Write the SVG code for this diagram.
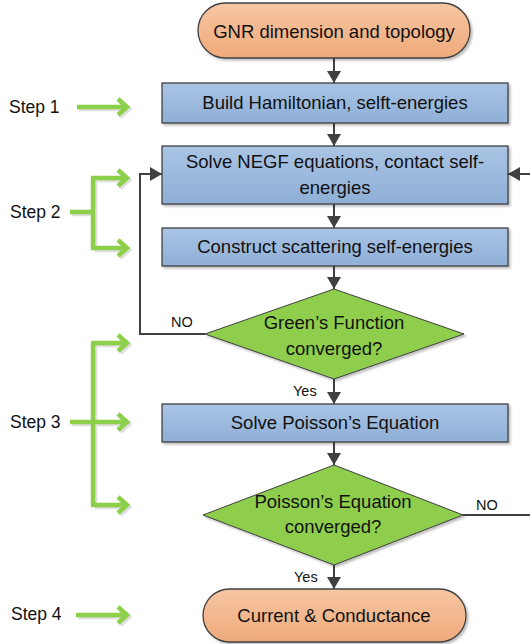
<svg xmlns="http://www.w3.org/2000/svg" width="530" height="644" viewBox="0 0 530 644">
<defs>
<linearGradient id="gBlue" x1="0" y1="0" x2="0" y2="1"><stop offset="0" stop-color="#A9C4E4"/><stop offset="1" stop-color="#8FAFD6"/></linearGradient>
<linearGradient id="gOrange" x1="0" y1="0" x2="0" y2="1"><stop offset="0" stop-color="#F6C6A3"/><stop offset="1" stop-color="#EFAA7A"/></linearGradient>
<filter id="sh" x="-10%" y="-10%" width="130%" height="140%"><feDropShadow dx="2" dy="2" stdDeviation="1" flood-color="#000" flood-opacity="0.25"/></filter>
<marker id="ah" markerUnits="userSpaceOnUse" markerWidth="14" markerHeight="14" refX="12" refY="7" orient="auto"><path d="M0,0 L12,7 L0,14 Z" fill="#404040"/></marker>
</defs>
<style>
text{font-family:"Liberation Sans",Arial,sans-serif;fill:#111;}
.t{font-size:18.5px;text-anchor:middle;}
.s{font-size:17.5px;}
.l{font-size:14.5px;}
.box{fill:url(#gBlue);stroke:#404040;stroke-width:1.3;filter:url(#sh);}
.term{fill:url(#gOrange);stroke:#404040;stroke-width:1.3;filter:url(#sh);}
.dec{fill:#8FCE4D;stroke:#404040;stroke-width:1;filter:url(#sh);}
.c{fill:none;stroke:#404040;stroke-width:2;}
.ca{fill:none;stroke:#404040;stroke-width:2;marker-end:url(#ah);}
.g{fill:none;stroke:#8CD04A;stroke-width:4.5;stroke-linejoin:miter;}
.gs{fill:none;stroke:#000;stroke-opacity:0.13;stroke-width:4.5;}
</style>

<g id="connectors">
<line class="ca" x1="334" y1="58" x2="334" y2="83"/>
<line class="ca" x1="334" y1="123" x2="334" y2="146"/>
<line class="ca" x1="334" y1="204" x2="334" y2="228"/>
<line class="ca" x1="334" y1="266" x2="334" y2="289"/>
<line class="ca" x1="334" y1="379" x2="334" y2="404"/>
<line class="ca" x1="334" y1="442" x2="334" y2="465"/>
<line class="ca" x1="334" y1="565" x2="334" y2="589"/>
<polyline class="ca" points="205,334 140,334 140,174 162,174"/>
<line class="c" x1="463" y1="515" x2="532" y2="515"/>
<line class="ca" x1="532" y1="174" x2="508" y2="174"/>
<text class="l" x="171" y="327">NO</text>
<text class="l" x="293" y="396">Yes</text>
<text class="l" x="476" y="510">NO</text>
<text class="l" x="294" y="582">Yes</text>
</g>

<g id="steps">
<g id="step1">
<text class="s" x="9" y="113">Step 1</text>
<path class="gs" d="M79,109 L127,109 M120,101 L129,109 L120,117"/>
<path class="g" d="M77,107 L125,107 M118,99 L127,107 L118,115"/>
</g>
<g id="step2">
<text class="s" x="10" y="218">Step 2</text>
<path class="gs" d="M72,214 L95,214 M95,180 L95,250 M95,180 L127,180 M95,250 L127,250 M120,172 L129,180 L120,188 M120,242 L129,250 L120,258"/>
<path class="g" d="M70,212 L93,212 M93,178 L93,248 M91,178 L125,178 M91,248 L125,248 M118,170 L127,178 L118,186 M118,240 L127,248 L118,256"/>
</g>
<g id="step3">
<text class="s" x="10" y="428">Step 3</text>
<path class="gs" d="M72,424 L95,424 M95,345 L95,507 M95,345 L127,345 M95,424 L127,424 M95,507 L127,507 M120,337 L129,345 L120,353 M120,416 L129,424 L120,432 M120,499 L129,507 L120,515"/>
<path class="g" d="M70,422 L93,422 M93,343 L93,505 M91,343 L125,343 M93,422 L125,422 M91,505 L125,505 M118,335 L127,343 L118,351 M118,414 L127,422 L118,430 M118,497 L127,505 L118,513"/>
</g>
<g id="step4">
<text class="s" x="11" y="620">Step 4</text>
<path class="gs" d="M78,617 L127,617 M120,609 L129,617 L120,625"/>
<path class="g" d="M76,615 L125,615 M118,607 L127,615 L118,623"/>
</g>
</g>

<g id="n-start">
<rect class="term" x="198" y="3" width="272" height="55" rx="27.5"/>
<text class="t" x="334" y="38">GNR dimension and topology</text>
</g>
<g id="n-hamiltonian">
<rect class="box" x="162" y="83" width="346" height="40"/>
<text class="t" x="335" y="109">Build Hamiltonian, selft-energies</text>
</g>
<g id="n-negf">
<rect class="box" x="162" y="146" width="346" height="58"/>
<text class="t" x="335" y="168">Solve NEGF equations, contact self-</text>
<text class="t" x="335" y="194">energies</text>
</g>
<g id="n-scattering">
<rect class="box" x="162" y="228" width="346" height="38"/>
<text class="t" x="335" y="253">Construct scattering self-energies</text>
</g>
<g id="n-green">
<polygon class="dec" points="334,289 464,334 334,379 205,334"/>
<text class="t" x="334" y="329">Green’s Function</text>
<text class="t" x="334" y="355">converged?</text>
</g>
<g id="n-poisson">
<rect class="box" x="162" y="404" width="346" height="38"/>
<text class="t" x="335" y="429">Solve Poisson’s Equation</text>
</g>
<g id="n-poisson-conv">
<polygon class="dec" points="334,465 463,515 334,565 203,515"/>
<text class="t" x="333" y="508">Poisson’s Equation</text>
<text class="t" x="333" y="533">converged?</text>
</g>
<g id="n-end">
<rect class="term" x="203" y="589" width="263" height="53" rx="26.5"/>
<text class="t" x="334" y="622">Current &amp; Conductance</text>
</g>
</svg>
